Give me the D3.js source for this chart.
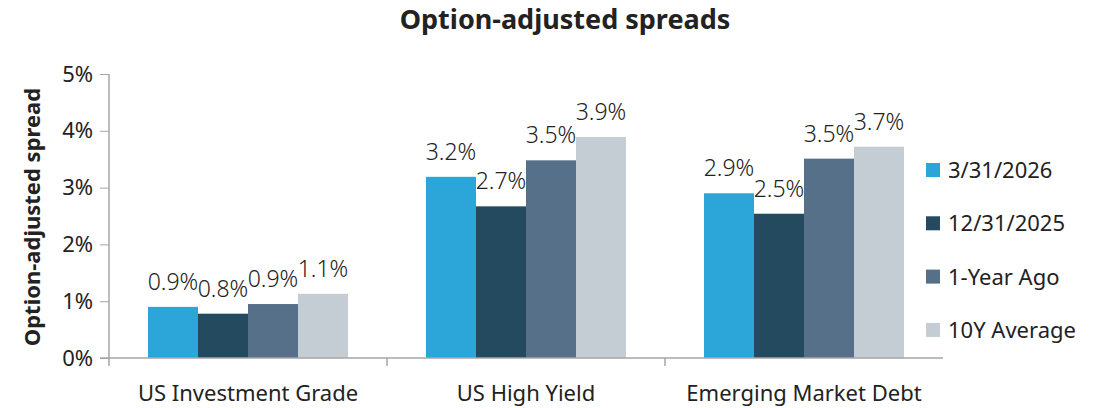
<!DOCTYPE html>
<html>
<head>
<meta charset="utf-8">
<script src="https://cdn.jsdelivr.net/npm/d3@7"></script>
<style>
  body { margin: 0; background: #fff; }
  text { font-family: "Noto Sans", "Open Sans", sans-serif; fill: #222; }
</style>
</head>
<body>
<div id="root"></div>
<script>
const categories = ['US Investment Grade', 'US High Yield', 'Emerging Market Debt'];
const seriesNames = ['3/31/2026', '12/31/2025', '1-Year Ago', '10Y Average'];
const seriesColors = ['#2ca5d8', '#234a5e', '#577089', '#c4ccd4'];
// values in percent, per series, one entry per category
const current = [0.90, 3.19, 2.90];
const lastQuarter = [0.78, 2.67, 2.54];
const yearAgo = [0.95, 3.48, 3.51];
const tenYearAvg = [1.13, 3.89, 3.72];
const labels = [
  ['0.9%', '3.2%', '2.9%'],
  ['0.8%', '2.7%', '2.5%'],
  ['0.9%', '3.5%', '3.5%'],
  ['1.1%', '3.9%', '3.7%']
];
const yTicks = [0, 1, 2, 3, 4, 5];

const width = 1109;
const height = 408;
const plotLeft = 109;
const plotRight = 943;
const plotTop = 74;
const plotBottom = 358;
const axisColor = '#a6a6a6';

const series = [current, lastQuarter, yearAgo, tenYearAvg];

const svg = d3.select('#root')
  .append('svg')
  .attr('width', width)
  .attr('height', height);

const x0 = d3.scaleBand()
  .domain(categories)
  .range([plotLeft, plotRight])
  .paddingInner(0)
  .paddingOuter(0);

const x1 = d3.scaleBand()
  .domain(d3.range(seriesNames.length))
  .range([0, 200]);

const y = d3.scaleLinear()
  .domain([0, 5])
  .range([plotBottom, plotTop]);

const groupOffset = (x0.bandwidth() - 200) / 2;

// bars
series.forEach((values, si) => {
  svg.selectAll(`.bar-${ si }`)
    .data(values)
    .enter()
    .append('rect')
    .attr('x', (_d, i) => x0(categories[i]) + groupOffset + x1(si))
    .attr('width', x1.bandwidth())
    .attr('y', (d) => y(d))
    .attr('height', (d) => plotBottom - y(d))
    .style('fill', seriesColors[si]);

  svg.selectAll(`.label-${ si }`)
    .data(values)
    .enter()
    .append('text')
    .attr('x', (_d, i) => x0(categories[i]) + groupOffset + x1(si) + x1.bandwidth() / 2)
    .attr('y', (d) => y(d) - 17)
    .attr('text-anchor', 'middle')
    .attr('font-size', '23px')
    .attr('font-weight', 300)
    .text((_d, i) => labels[si][i]);
});

// y axis
const yAxis = d3.axisLeft(y)
  .tickValues(yTicks)
  .tickFormat((d) => `${ d }%`)
  .tickSize(9)
  .tickPadding(7);

const yAxisG = svg.append('g')
  .attr('transform', `translate(${ plotLeft },0)`)
  .call(yAxis);
yAxisG.select('.domain').remove();
yAxisG.selectAll('line').attr('stroke', axisColor);
yAxisG.selectAll('text')
  .attr('font-size', '22px')
  .attr('font-family', '"Noto Sans", sans-serif')
  .attr('fill', '#222');

svg.append('line')
  .attr('x1', plotLeft).attr('x2', plotLeft)
  .attr('y1', plotTop).attr('y2', plotBottom + 8)
  .attr('stroke', axisColor)
  .attr('stroke-width', 1.5);

// x axis baseline and separators
svg.append('line')
  .attr('x1', plotLeft - 9).attr('x2', plotRight)
  .attr('y1', plotBottom).attr('y2', plotBottom)
  .attr('stroke', axisColor)
  .attr('stroke-width', 1.5);

svg.selectAll('.sep')
  .data(categories.slice(1))
  .enter()
  .append('line')
  .attr('x1', (d) => x0(d)).attr('x2', (d) => x0(d))
  .attr('y1', plotBottom).attr('y2', plotBottom + 8)
  .attr('stroke', axisColor)
  .attr('stroke-width', 1.5);

svg.selectAll('.cat')
  .data(categories)
  .enter()
  .append('text')
  .attr('x', (d) => x0(d) + x0.bandwidth() / 2)
  .attr('y', 401)
  .attr('text-anchor', 'middle')
  .attr('font-size', '22px')
  .text((d) => d);

// titles
svg.append('text')
  .attr('x', 565)
  .attr('y', 29)
  .attr('text-anchor', 'middle')
  .attr('font-size', '27px')
  .attr('font-weight', 'bold')
  .text('Option-adjusted spreads');

svg.append('text')
  .attr('transform', 'translate(40,217) rotate(-90)')
  .attr('text-anchor', 'middle')
  .attr('font-size', '22px')
  .attr('font-weight', 'bold')
  .text('Option-adjusted spread');

// legend
const legend = svg.selectAll('.legend')
  .data(seriesNames)
  .enter()
  .append('g')
  .attr('transform', (_d, i) => `translate(926,${ 163 + i * 53.3 })`);

legend.append('rect')
  .attr('width', 14)
  .attr('height', 14)
  .style('fill', (_d, i) => seriesColors[i]);

legend.append('text')
  .attr('x', 22)
  .attr('y', 15)
  .attr('font-size', '22px')
  .text((d) => d);
</script>
</body>
</html>
